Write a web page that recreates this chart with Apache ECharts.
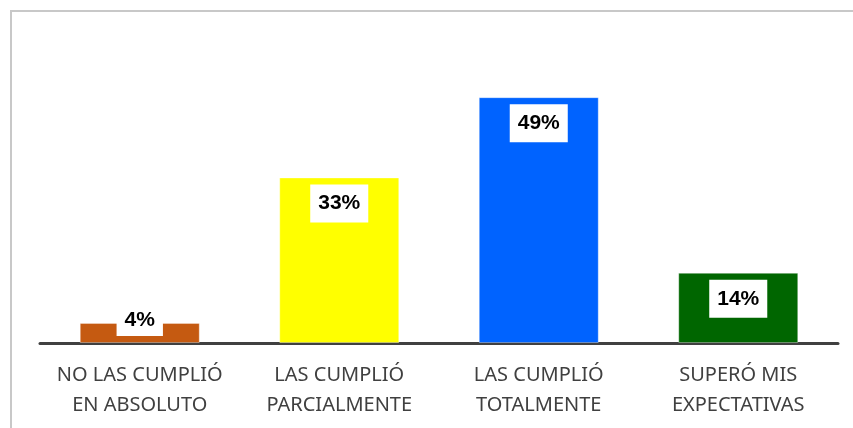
<!DOCTYPE html>
<html>
<head>
<meta charset="utf-8">
<script src="https://cdn.jsdelivr.net/npm/echarts@6/dist/echarts.min.js"></script>
<style>
  html, body { margin: 0; padding: 0; background: #fff; }
  #chart { position: absolute; left: 0; top: 0; width: 853px; height: 428px; }
  #frame { position: absolute; left: 10px; top: 10px; width: 860px; height: 430px;
           border-left: 2px solid #c8c8c8; border-top: 2px solid #c8c8c8; pointer-events: none; }
</style>
</head>
<body>
<div id="chart"></div>
<div id="frame"></div>
<script>
const categories = ['NO LAS CUMPLIÓ\nEN ABSOLUTO', 'LAS CUMPLIÓ\nPARCIALMENTE', 'LAS CUMPLIÓ\nTOTALMENTE', 'SUPERÓ MIS\nEXPECTATIVAS']
const values = [4, 33, 49, 14]
const barColors = ['#C55A11', '#FFFF00', '#0063FF', '#006600']

const chart = echarts.init(document.getElementById('chart'))

const data = values.map((v, i) => {
  const item = {
    value: v,
    itemStyle: { color: barColors[i] },
  }
  // short bar: label sits over its top edge
  if (i === 0) {
    item.label = { position: 'top', distance: 0, offset: [0, 13], padding: [5, 8] }
  }
  return item
})

const option = {
  backgroundColor: '#ffffff',
  animation: false,
  grid: { left: 40, right: 15, top: 42, bottom: 85 },
  xAxis: {
    type: 'category',
    data: categories,
    axisLine: { lineStyle: { color: '#404040', width: 3 } },
    axisTick: { show: false },
    axisLabel: {
      interval: 0,
      color: '#404040',
      fontFamily: 'Noto Sans',
      fontSize: 20,
      lineHeight: 30,
      margin: 17,
    },
  },
  yAxis: {
    type: 'value',
    min: 0,
    max: 60,
    show: false,
    splitLine: { show: false },
  },
  series: [
    {
      type: 'bar',
      data: data,
      barWidth: 120,
      itemStyle: { borderColor: 'rgba(255,255,255,0.35)', borderWidth: 1 },
      label: {
        show: true,
        position: 'insideTop',
        distance: 7,
        formatter: '{c}%',
        backgroundColor: '#ffffff',
        padding: [8, 8],
        color: '#000000',
        fontFamily: 'Liberation Sans',
        fontWeight: 'bold',
        fontSize: 21,
        lineHeight: 22,
      },
    },
  ],
}

chart.setOption(option)
</script>
</body>
</html>
